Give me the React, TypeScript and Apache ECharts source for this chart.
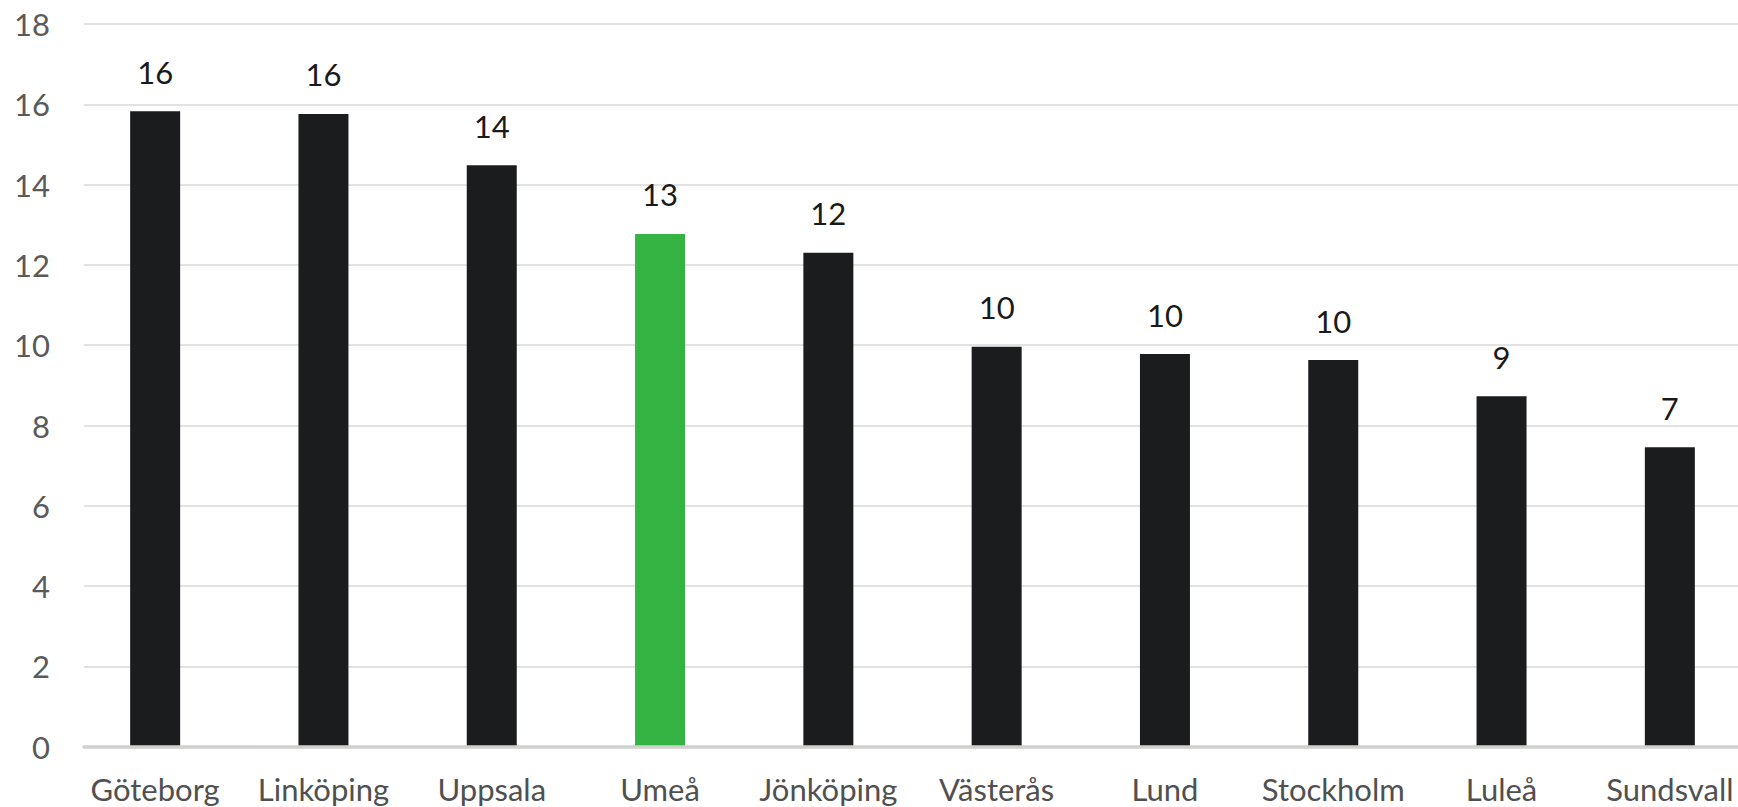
import React, { useEffect, useRef } from "react";
import * as echarts from "echarts";

const categories = ["Göteborg", "Linköping", "Uppsala", "Umeå", "Jönköping", "Västerås", "Lund", "Stockholm", "Luleå", "Sundsvall"];
const values = [15.83, 15.76, 14.48, 12.77, 12.3, 9.96, 9.78, 9.63, 8.73, 7.46];
const highlightCategory = "Umeå";
const yTicks = { min: 0, max: 18, interval: 2 };

const FONT = "Lato, 'Noto Sans', sans-serif";

export default function App() {
  const ref = useRef<HTMLDivElement>(null);
  useEffect(() => {
    document.body.style.margin = "0";
    const chart = echarts.init(ref.current!, undefined, { renderer: "svg" });
    const grid = { top: 24, bottom: 60.3 };
    chart.setOption({
      animation: false,
      backgroundColor: "#ffffff",
      textStyle: { fontFamily: FONT },
      grid: [
        { ...grid, left: 84, right: 0, outerBoundsMode: "none", containLabel: false },
        { ...grid, left: 71, width: 1683, outerBoundsMode: "none", containLabel: false },
      ],
      xAxis: [
        {
          gridIndex: 0,
          type: "category",
          data: [""],
          axisLine: { show: true, lineStyle: { color: "#d0d0ce", width: 3.5 } },
          axisTick: { show: false },
          axisLabel: { show: false },
          splitLine: { show: false },
          z: 3,
        },
        {
          gridIndex: 1,
          type: "category",
          data: categories,
          axisLine: { show: false },
          axisTick: { show: false },
          axisLabel: { color: "#505050", fontSize: 31, margin: 27, fontFamily: FONT, interval: 0 },
        },
      ],
      yAxis: [
        {
          gridIndex: 0,
          type: "value",
          min: yTicks.min,
          max: yTicks.max,
          interval: yTicks.interval,
          axisLine: { show: false },
          axisTick: { show: false },
          axisLabel: { color: "#5a5a5a", fontSize: 31, margin: 34, fontFamily: FONT },
          splitLine: { show: true, lineStyle: { color: "#d9d9d9", width: 1.5 } },
        },
        {
          gridIndex: 1,
          type: "value",
          min: yTicks.min,
          max: yTicks.max,
          interval: yTicks.interval,
          show: false,
          splitLine: { show: false },
        },
      ],
      series: [
        {
          type: "bar",
          xAxisIndex: 1,
          yAxisIndex: 1,
          barWidth: 50,
          z: 2,
          data: values.map((v, i) => ({
            value: v,
            itemStyle: { color: categories[i] === highlightCategory ? "#36b443" : "#1b1c1e" },
          })),
          label: {
            show: true,
            position: "top",
            distance: 24,
            color: "#1a1a1a",
            fontSize: 31,
            fontFamily: FONT,
            formatter: (p: any) => String(Math.round(p.value)),
          },
        },
      ],
    });
    return () => chart.dispose();
  }, []);
  return <div ref={ref} style={{ width: 1738, height: 807 }} />;
}
